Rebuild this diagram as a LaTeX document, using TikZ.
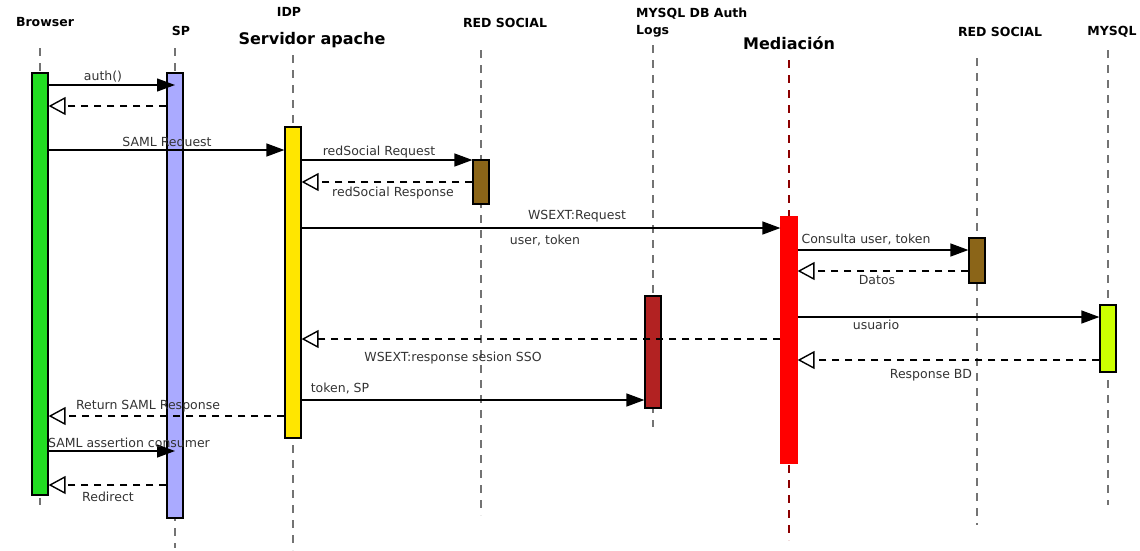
\documentclass[tikz,border=0pt]{standalone}
\usepackage{fontspec}
\setmainfont{DejaVu Sans}
\usepackage{xcolor}
\usetikzlibrary{arrows.meta,positioning}

\definecolor{brgreen}{RGB}{34,221,34}
\definecolor{splav}{RGB}{170,170,255}
\definecolor{idpyel}{RGB}{255,230,0}
\definecolor{rsbrown}{RGB}{139,101,24}
\definecolor{logred}{RGB}{178,34,34}
\definecolor{medred}{RGB}{255,0,0}
\definecolor{sqllime}{RGB}{204,255,0}

\begin{document}
\begin{tikzpicture}[x=1pt, y=-1pt,
  head/.style={font=\fontsize{12.5}{17}\selectfont\bfseries, inner sep=0pt},
  big/.style={font=\fontsize{16}{18}\selectfont\bfseries, inner sep=0pt},
  life/.style={black!55, line width=1.1pt, dash pattern=on 8pt off 7pt},
  bar/.style={draw, line width=1.2pt, minimum width=16pt, inner sep=0pt},
  call/.style={line width=1.3pt, -{Triangle[length=18pt,width=13pt]}},
  back/.style={line width=1.4pt, dash pattern=on 7pt off 6pt, -{Triangle[open,length=17pt,width=18pt]}},
  lbl/.style={font=\fontsize{12.5}{14}\selectfont, inner sep=0pt, text=black!80}
]
\useasboundingbox (0,0) rectangle (1140,550);

% heads
\node[head] (hbr) at (45,22) {Browser};
\node[head] (hsp) at (181,31) {SP};
\node[head] (hidp) at (289,12) {IDP};
\node[big] (hapache) at (312,40) {Servidor apache};
\node[head] (hrs1) at (505,23) {RED SOCIAL};
\node[head, align=left, anchor=north west] (hlog) at (636,8) {MYSQL DB Auth\\Logs};
\node[big] (hmed) at (789,43) {Mediación};
\node[head] (hrs2) at (1000,32) {RED SOCIAL};
\node[head] (hsql) at (1112,32) {MYSQL};

% lifelines
\draw[life] (40,48) -- (40,505);
\draw[life] (175,48) -- (175,548);
\draw[life] (293,55) -- (293,550);
\draw[life] (481,50) -- (481,515);
\draw[life] (653,45) -- (653,427);
\draw[life, medred!55!black] (789,60) -- (789,540);
\draw[life] (977,58) -- (977,525);
\draw[life] (1108,50) -- (1108,505);

% activation bars
\node[bar, fill=brgreen, minimum height=422pt] (brbar) at (40,284) {};
\node[bar, fill=splav, minimum height=445pt] (spbar) at (175,295.5) {};
\node[bar, fill=idpyel, minimum height=311pt] (idpbar) at (293,282.5) {};
\node[bar, fill=rsbrown, minimum height=44pt] (rs1bar) at (481,182) {};
\node[bar, fill=logred, minimum height=112pt] (logbar) at (653,352) {};
\node[bar, draw=medred, fill=medred, minimum height=246pt] (medbar) at (789,340) {};
\node[bar, fill=rsbrown, minimum height=45pt] (rs2bar) at (977,260.5) {};
\node[bar, fill=sqllime, minimum height=67pt] (sqlbar) at (1108,338.5) {};

% messages
\draw[call] (brbar.east |- 0,85) -- (spbar.center |- 0,85);
\draw[back] (spbar.west |- 0,106) -- (brbar.east |- 0,106);
\draw[call] (brbar.east |- 0,150) -- (idpbar.west |- 0,150);
\draw[call] (idpbar.east |- 0,160) -- (rs1bar.west |- 0,160);
\draw[back] (rs1bar.west |- 0,182) -- (idpbar.east |- 0,182);
\draw[call] (idpbar.east |- 0,228) -- (medbar.west |- 0,228);
\draw[call] (medbar.east |- 0,250) -- (rs2bar.west |- 0,250);
\draw[back] (rs2bar.west |- 0,271) -- (medbar.east |- 0,271);
\draw[call] (medbar.east |- 0,317) -- (sqlbar.west |- 0,317);
\draw[back] (medbar.west |- 0,339) -- (idpbar.east |- 0,339);
\draw[back] (sqlbar.west |- 0,360) -- (medbar.east |- 0,360);
\draw[call] (idpbar.east |- 0,400) -- (logbar.west |- 0,400);
\draw[back] (idpbar.west |- 0,416) -- (brbar.east |- 0,416);
\draw[call] (brbar.east |- 0,451) -- (spbar.center |- 0,451);
\draw[back] (spbar.west |- 0,485) -- (brbar.east |- 0,485);

% labels
\node[lbl] (lauth) at (103,77) {auth()};
\node[lbl] (lsamlreq) at (167,143) {SAML Request};
\node[lbl] (lrsreq) at (379,152) {redSocial Request};
\node[lbl] (lrsresp) at (393,193) {redSocial Response};
\node[lbl] (lwsreq) at (577,216) {WSEXT:Request};
\node[lbl] (lusertok) at (545,240) {user, token};
\node[lbl] (lconsulta) at (866,239) {Consulta user, token};
\node[lbl] (ldatos) at (877,280) {Datos};
\node[lbl] (lusuario) at (876,325) {usuario};
\node[lbl] (lwsresp) at (453,358) {WSEXT:response sesion SSO};
\node[lbl] (lrespbd) at (931,375) {Response BD};
\node[lbl] (ltoksp) at (340,388) {token, SP};
\node[lbl] (lretsaml) at (148,406) {Return SAML Response};
\node[lbl] (lassert) at (129,443) {SAML assertion consumer};
\node[lbl] (lredir) at (108,497) {Redirect};
\end{tikzpicture}
\end{document}
